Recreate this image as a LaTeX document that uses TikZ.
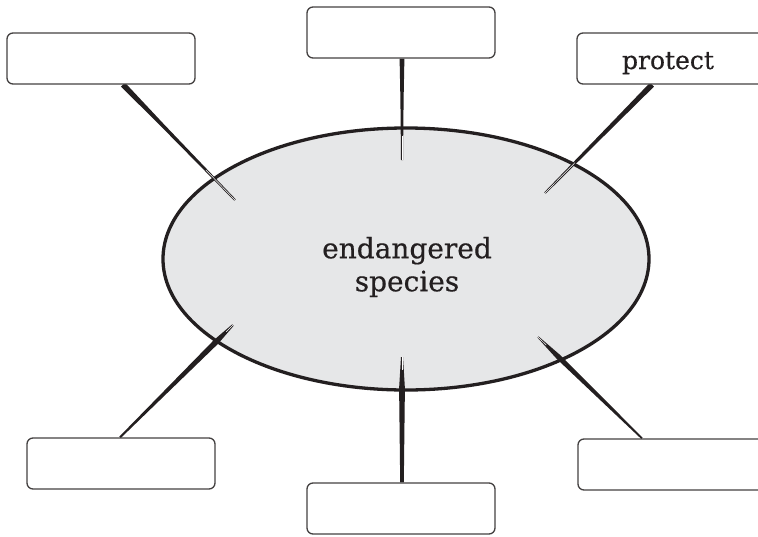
\documentclass[tikz,border=0pt]{standalone}
\usepackage{fontspec}
\setmainfont[FakeBold=0.5]{DejaVu Serif}
\usetikzlibrary{calc}
\pgfdeclarelayer{hublayer}
\pgfdeclarelayer{strokelayer}
\pgfsetlayers{hublayer,strokelayer,main}
\definecolor{ink}{HTML}{231F20}
\definecolor{ellfill}{HTML}{E6E7E8}
% #1 start, #2 tip, #3 half width at start, #4 fraction of widest point, #5 half width there, #6 half width at tip
\newcommand\brushstroke[6]{%
  \path ($(#1)!#4!(#2)$) coordinate (bm);
  \fill[ink] ($(#1)!#3!90:(#2)$) -- ($(bm)!#5!90:(#2)$) -- ($(#2)!#6!-90:(#1)$)
     -- ($(#2)!#6!90:(#1)$) -- ($(bm)!#5!-90:(#2)$) -- ($(#1)!#3!-90:(#2)$) -- cycle;
  \draw[white, line width=0.5pt] ($(bm)!0.6!(#2)$) -- ($(#2)!0.3pt!(#1)$);
}
\tikzset{
  labelbox/.style={draw=ink!85, line width=1.3pt, rounded corners=6pt, fill=white,
    minimum width=188pt, minimum height=51pt, inner sep=0pt},
  hubtext/.style={font=\fontsize{28}{33}\selectfont, text=ink, align=center},
  boxtext/.style={font=\fontsize{25}{30}\selectfont, text=ink, anchor=base}
}
\begin{document}
\begin{tikzpicture}[x=1pt, y=-1pt]
\useasboundingbox (0,0) rectangle (758,536);
\clip (0,0) rectangle (758,536);
% hub
\begin{pgfonlayer}{hublayer}
\draw[ink, line width=3.3pt, fill=ellfill] (406,259) ellipse [x radius=243, y radius=131];
\end{pgfonlayer}
\node[hubtext] (hub) at (407,267) {endangered\\species};
% boxes
\node[labelbox] (tl) at (101,58.5) {};
\node[labelbox] (tc) at (401,32.5) {};
\node[labelbox] (tr) at (671,58.5) {};
\node[labelbox] (bl) at (121,463.5) {};
\node[labelbox] (bc) at (401,508.5) {};
\node[labelbox] (br) at (672,464.5) {};
\node[boxtext] (prot) at (668,69) {protect};
% connector ends
\coordinate (tls) at ($(tl.south)+(22,0)$);   \coordinate (tle) at (235,200);
\coordinate (tcs) at ($(tc.south)+(1,0)$);    \coordinate (tce) at (402,160);
\coordinate (trs) at ($(tr.south)+(-19,0)$);  \coordinate (tre) at (545,193);
\coordinate (bls) at ($(bl.north)+(-1,0)$);   \coordinate (ble) at (233,325);
\coordinate (bcs) at ($(bc.north)+(1,0)$);    \coordinate (bce) at (402,357);
\coordinate (brs) at ($(br.north)+(-30,0)$);  \coordinate (bre) at (538,337);
% brush connectors
\begin{pgfonlayer}{strokelayer}
\brushstroke{tls}{tle}{2.8pt}{0.35}{1.8pt}{1.0pt}
\brushstroke{tcs}{tce}{2.4pt}{0.4}{1.6pt}{1.0pt}
\brushstroke{trs}{tre}{2.8pt}{0.3}{2.2pt}{1.0pt}
\brushstroke{bls}{ble}{1.0pt}{0.85}{2.8pt}{1.0pt}
\brushstroke{bcs}{bce}{1.8pt}{0.75}{2.9pt}{1.0pt}
\brushstroke{brs}{bre}{0.9pt}{0.8}{2.6pt}{0.8pt}
\end{pgfonlayer}
\end{tikzpicture}
\end{document}
